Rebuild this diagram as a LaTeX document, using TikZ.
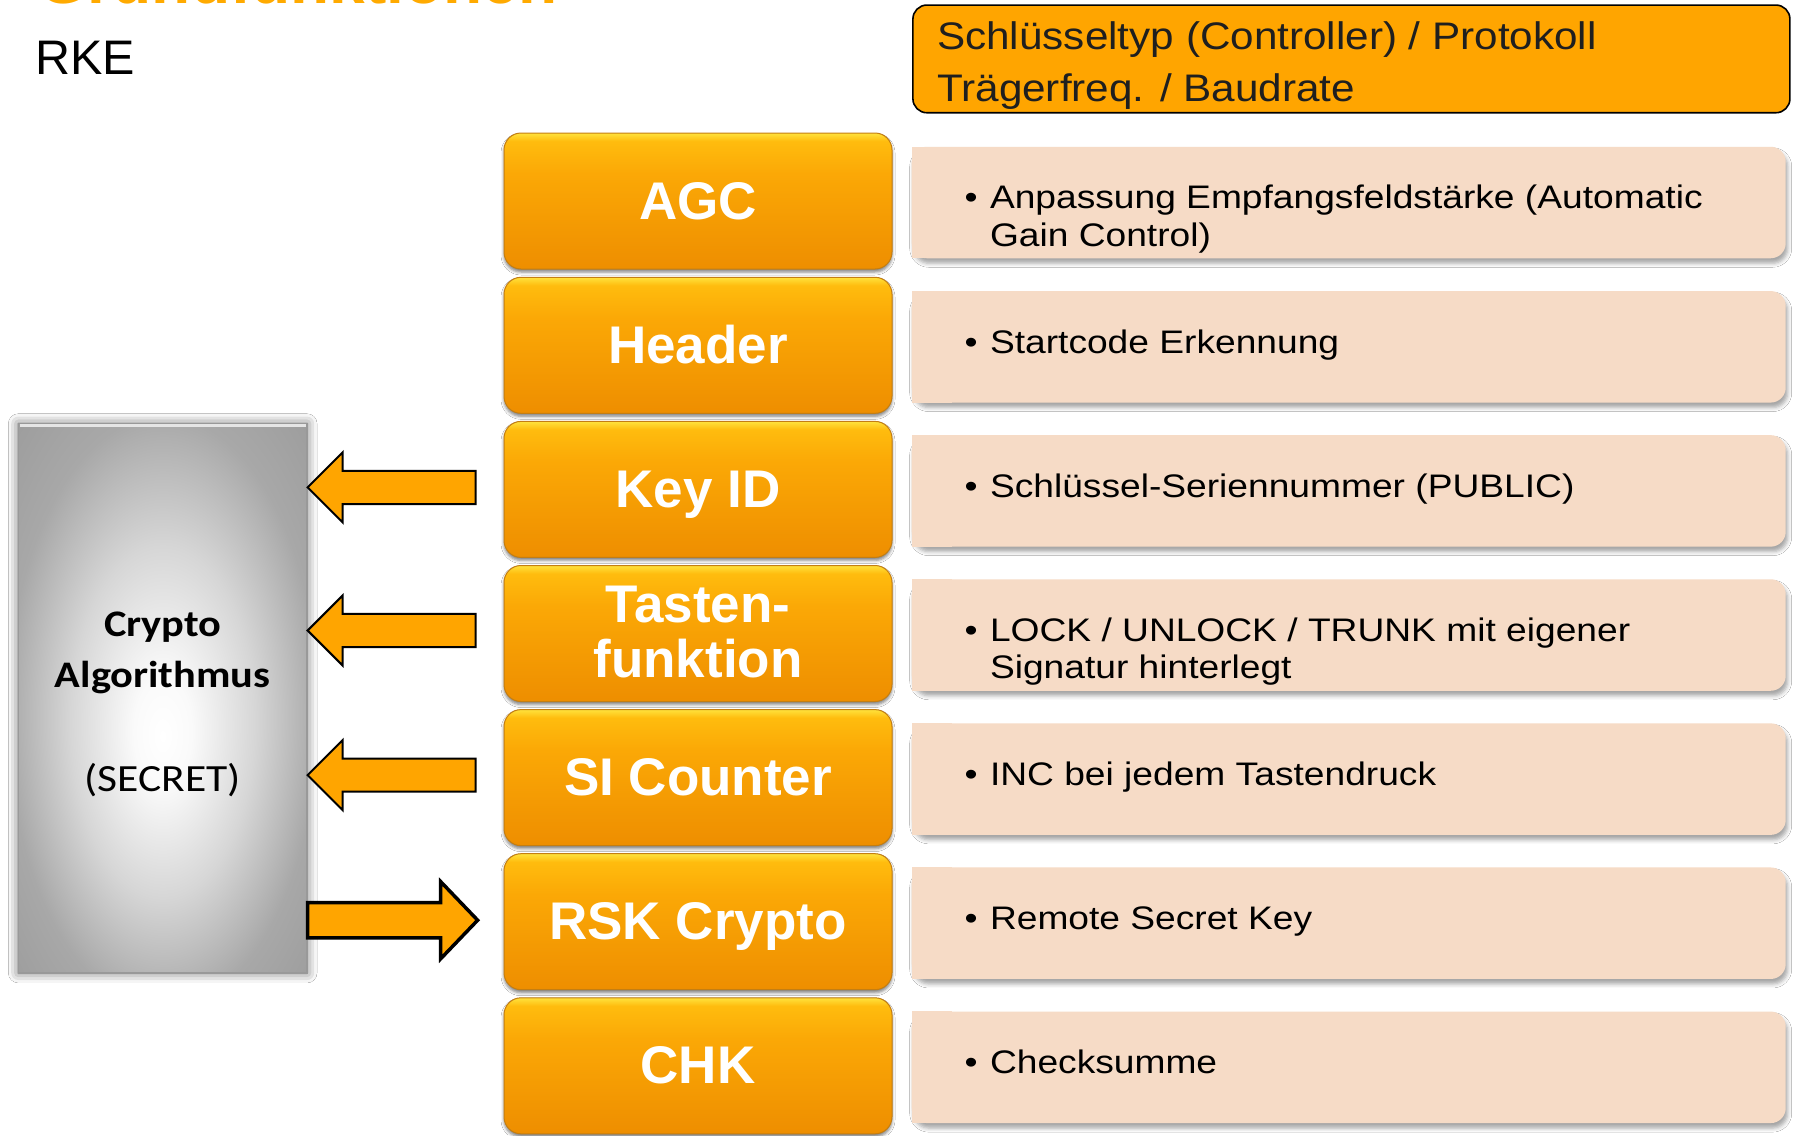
\documentclass[tikz,border=0pt]{standalone}
\usepackage{fontspec}
\setmainfont{Liberation Sans}
\newfontfamily\hdrfont[FakeStretch=1.10]{Liberation Sans}
\newfontfamily\descfont[FakeStretch=1.14]{Liberation Sans}
\newfontfamily\cryfont[FakeStretch=1.13]{Carlito}
\usetikzlibrary{shadows.blur,calc}
\definecolor{hdrorange}{RGB}{255,165,0}
\definecolor{peach}{RGB}{246,219,198}
\definecolor{obA}{RGB}{255,226,60}
\definecolor{obB}{RGB}{255,188,14}
\definecolor{obC}{RGB}{251,168,6}
\definecolor{obD}{RGB}{238,142,0}
\definecolor{obline}{RGB}{196,126,18}
\definecolor{arrorange}{RGB}{255,165,0}
\definecolor{cryA}{RGB}{255,255,255}
\definecolor{cryB}{RGB}{250,250,250}
\definecolor{cryC}{RGB}{214,214,214}
\definecolor{cryD}{RGB}{168,168,168}
\definecolor{cryE}{RGB}{150,150,150}
\definecolor{titleorange}{RGB}{255,170,0}
\pgfdeclareverticalshading{blockshade}{100bp}{color(0bp)=(obD); color(25bp)=(obD); color(60bp)=(obC); color(72bp)=(obB); color(75bp)=(obA); color(100bp)=(obA)}
\pgfdeclareradialshading{cryshade}{\pgfpoint{0bp}{-3.5bp}}{color(0bp)=(cryA); color(5bp)=(cryB); color(16bp)=(cryC); color(27bp)=(cryD); color(42bp)=(cryE)}
\begin{document}
\begin{tikzpicture}[x=1pt,y=-1pt,
  block/.style={shade, shading=blockshade, rounded corners=17pt, minimum width=388pt, minimum height=136pt, draw=obline, line width=1pt, inner sep=0pt,
    blur shadow={shadow xshift=0pt, shadow yshift=-3pt, shadow blur radius=3pt, shadow opacity=50}},
  blocktext/.style={anchor=base, inner sep=0pt, text=white, font=\fontsize{53}{60}\selectfont\bfseries},
  descbox/.style={fill=peach, rounded corners=15pt, minimum width=874pt, minimum height=111.5pt, inner sep=0pt,
    blur shadow={shadow xshift=2pt, shadow yshift=-5pt, shadow blur radius=4pt, shadow opacity=35}},
  desctext/.style={anchor=base west, inner sep=0pt, font=\descfont\fontsize{32.6}{37}\selectfont},
  hdrtext/.style={anchor=base west, inner sep=0pt, font=\hdrfont\fontsize{38.4}{52}\selectfont, text=black!88},
  crytext/.style={anchor=base, inner sep=0pt},
  arrowshape/.style={fill=arrorange, draw=black, line join=miter},
  larrow/.pic={\path[arrowshape, line width=2pt] (0,0) -- (35,-35) -- (35,-16.6) -- (168,-16.6) -- (168,16.6) -- (35,16.6) -- (35,35) -- cycle;},
  rarrow/.pic={\path[arrowshape, line width=3.5pt] (0,-17.6) -- (133,-17.6) -- (133,-38.6) -- (170,0) -- (133,38.6) -- (133,17.6) -- (0,17.6) -- cycle;}
]
\useasboundingbox (0,0) rectangle (1796,1135);
\fill[white] (0,0) rectangle (1796,1135);

% cut-off title and RKE
\begin{scope}
\clip (0,0) rectangle (1796,1135);
\node[anchor=base west, inner sep=0pt, text=titleorange, font=\fontsize{64}{70}\selectfont\bfseries] (title) at (38,3) {Grundfunktionen};
\end{scope}
\node[anchor=base west, inner sep=0pt, font=\fontsize{48.5}{55}\selectfont] (rke) at (35,74) {RKE};

% header box
\node[draw=black, line width=1.6pt, fill=hdrorange, rounded corners=14pt, minimum width=877pt, minimum height=107.7pt, inner sep=0pt] (hdr) at (1351.4,58.9) {};
\node[hdrtext] (hdr1) at (937,49.3) {Schlüsseltyp (Controller) / Protokoll};
\node[hdrtext] (hdr2) at (937,101.7) {Trägerfreq. / Baudrate};

% crypto box
\node[shade, shading=cryshade, draw=gray!80, line width=1.2pt, minimum width=288.7pt, minimum height=549.2pt, inner sep=0pt,
  blur shadow={shadow xshift=0pt, shadow yshift=0pt, shadow blur radius=10pt, shadow opacity=60}] (crypto) at (162.7,698.3) {};
\draw[white!80!gray, line width=2.5pt] ([xshift=2pt,yshift=-2.5pt]crypto.north west) -- ([xshift=-2pt,yshift=-2.5pt]crypto.north east);
\node[crytext, font=\cryfont\fontsize{37.5}{40}\selectfont\bfseries] (cry1) at (162.7,636.5) {Crypto};
\node[crytext, font=\cryfont\fontsize{37.5}{40}\selectfont\bfseries] (cry2) at (162.7,687) {Algorithmus};
\node[crytext, font=\cryfont\fontsize{38.5}{40}\selectfont] (cry3) at (162.7,791) {(SECRET)};

% orange blocks
\node[block] (agc) at (698,201) {};
\node[block] (hdrb) at (698,345.3) {};
\node[block] (keyid) at (698,489.4) {};
\node[block] (tasten) at (698,633.5) {};
\node[block] (sic) at (698,777.6) {};
\node[block] (rsk) at (698,921.7) {};
\node[block] (chk) at (698,1065.8) {};
\node[blocktext] (agct) at ($(agc.center)+(0,18)$) {AGC};
\node[blocktext] (hdrbt) at ($(hdrb.center)+(0,18)$) {Header};
\node[blocktext] (keyidt) at ($(keyid.center)+(0,18)$) {Key ID};
\node[blocktext] (tastent1) at ($(tasten.center)+(0,-11)$) {Tasten-};
\node[blocktext] (tastent2) at ($(tasten.center)+(0,44)$) {funktion};
\node[blocktext] (sict) at ($(sic.center)+(0,18)$) {SI Counter};
\node[blocktext] (rskt) at ($(rsk.center)+(0,18)$) {RSK Crypto};
\node[blocktext] (chkt) at ($(chk.center)+(0,18)$) {CHK};

% description boxes
\foreach \nm/\cy in {d1/202.5, d2/346.8, d3/490.9, d4/635, d5/779.1, d6/923.2, d7/1067.3}{
  \node[descbox] (\nm) at (1348.7,\cy) {};
  \fill[peach] (\nm.north west) rectangle ($(\nm.south west)+(40,0)$);
}
\foreach \nm in {d1,d2,d3,d4,d5,d6,d7}{
  \node[desctext] (\nm b) at ($(\nm.north west)+(52.8,62.3)$) {•};
}
\node[desctext] (d1t1) at ($(d1.north west)+(78.3,62.3)$) {Anpassung Empfangsfeldstärke (Automatic};
\node[desctext] (d1t2) at ($(d1.north west)+(78.3,99.8)$) {Gain Control)};
\node[desctext] (d2t1) at ($(d2.north west)+(78.3,62.3)$) {Startcode Erkennung};
\node[desctext] (d3t1) at ($(d3.north west)+(78.3,62.3)$) {Schlüssel-Seriennummer (PUBLIC)};
\node[desctext] (d4t1) at ($(d4.north west)+(78.3,62.3)$) {LOCK / UNLOCK / TRUNK mit eigener};
\node[desctext] (d4t2) at ($(d4.north west)+(78.3,99.8)$) {Signatur hinterlegt};
\node[desctext] (d5t1) at ($(d5.north west)+(78.3,62.3)$) {INC bei jedem Tastendruck};
\node[desctext] (d6t1) at ($(d6.north west)+(78.3,62.3)$) {Remote Secret Key};
\node[desctext] (d7t1) at ($(d7.north west)+(78.3,62.3)$) {Checksumme};

% block arrows between crypto box and blocks
\coordinate (a1) at ($(keyid.west)+(0,-2)$);
\coordinate (a2) at ($(tasten.west)+(0,-3)$);
\coordinate (a3) at ($(sic.west)+(0,-2.5)$);
\coordinate (a4) at ($(rsk.west)+(0,-1.5)$);
\pic (arr1) at (crypto.east |- a1) {larrow};
\pic (arr2) at (crypto.east |- a2) {larrow};
\pic (arr3) at (crypto.east |- a3) {larrow};
\pic (arr4) at (crypto.east |- a4) {rarrow};
\end{tikzpicture}
\end{document}
